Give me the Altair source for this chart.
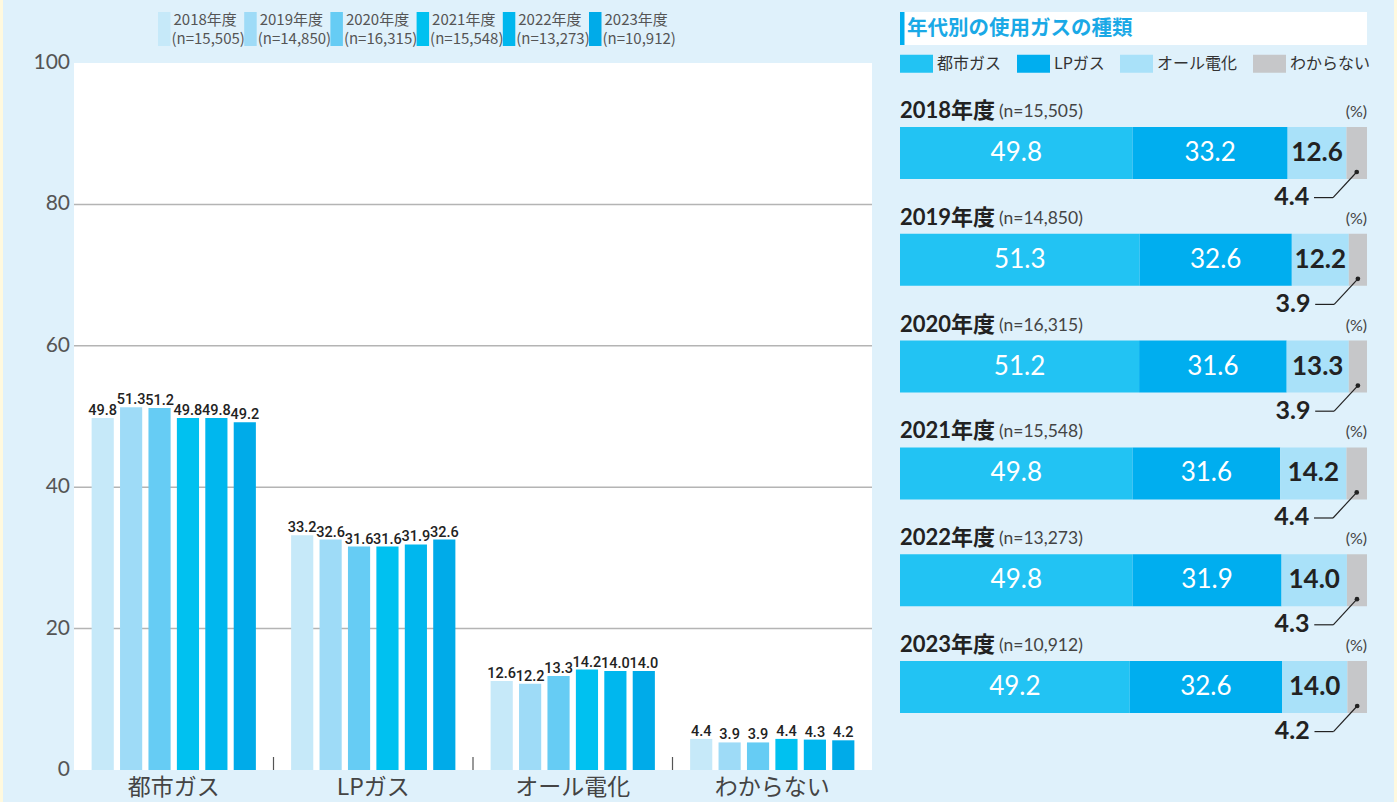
import altair as alt
import pandas as pd

# ---------------- data ----------------
years = ["2018年度", "2019年度", "2020年度", "2021年度", "2022年度", "2023年度"]
sample_sizes = ["15,505", "14,850", "16,315", "15,548", "13,273", "10,912"]
categories = ["都市ガス", "LPガス", "オール電化", "わからない"]

city_gas = [49.8, 51.3, 51.2, 49.8, 49.8, 49.2]
lp_gas = [33.2, 32.6, 31.6, 31.6, 31.9, 32.6]
all_electric = [12.6, 12.2, 13.3, 14.2, 14.0, 14.0]
unknown = [4.4, 3.9, 3.9, 4.4, 4.3, 4.2]

grid_values = [20, 40, 60, 80]
tick_values = [0, 20, 40, 60, 80, 100]
title_text = ["年代別の使用ガスの種類"]

year_colors = ["#c6e9f9", "#9edbf7", "#66ccf4", "#00c1f0", "#00b7ee", "#00abe9"]
gas_colors = ["#22c3f3", "#00aeef", "#a9e1f9", "#c6c7c9"]

series = [city_gas, lp_gas, all_electric, unknown]

rows = []
for yi, y in enumerate(years):
    start = 0.0
    for ci, (c, s) in enumerate(zip(categories, series)):
        v = s[yi]
        rows.append({"cat": c, "year": y, "value": v, "ci": ci,
                     "n": f"(n={sample_sizes[yi]})",
                     "start": start, "end": start + v, "mid": start + v / 2})
        start += v
df = pd.DataFrame(rows)
legend_df = pd.DataFrame({"year": years, "n": [f"(n={n})" for n in sample_sizes]})
grid_df = pd.DataFrame({"g": grid_values})
tick_df = pd.DataFrame({"g": tick_values})
cat_df = pd.DataFrame({"cat": categories})
sep_df = pd.DataFrame({"cat": categories[1:]})
title_df = pd.DataFrame({"t": title_text})

JP = "Noto Sans CJK JP"
NUM = "Lato"

# ---------------- left chart scales ----------------
XL = alt.Scale(type="band", domain=categories, range=[74, 872], paddingInner=0, paddingOuter=0)
XOL = alt.Scale(type="band", domain=years, paddingInner=0.22, paddingOuter=0.62)
YL = alt.Scale(domain=[0, 100], range=[770, 63], nice=False, zero=False)
CL = alt.Scale(domain=years, range=year_colors)
XLEG = alt.Scale(type="band", domain=years, range=[158, 601.5], paddingInner=0.855, paddingOuter=0)

# ---------------- right chart scales ----------------
XR = alt.Scale(domain=[0, 100], range=[900, 1367], nice=False, zero=False)
YR = alt.Scale(type="band", domain=years, range=[127, 713], paddingInner=0.513, paddingOuter=0)
CR = alt.Scale(domain=categories, range=gas_colors)

layers = []

# plot background (white)
layers.append(alt.Chart(tick_df.head(1)).mark_rect(color="white").encode(
    x=alt.value(74), x2=alt.value(872),
    y=alt.Y(datum=0, scale=YL, axis=None), y2=alt.Y2(datum=100)))

# gridlines
layers.append(alt.Chart(grid_df).mark_rule(color="#b4b4b4", strokeWidth=1.5).encode(
    y=alt.Y("g:Q", scale=YL, axis=None), x=alt.value(74), x2=alt.value(872)))

# y labels
layers.append(alt.Chart(tick_df).mark_text(align="right", baseline="middle", fontSize=21,
                                            font=NUM, color="#555").encode(
    y=alt.Y("g:Q", scale=YL, axis=None), x=alt.value(70), text="g:Q"))

# grouped bars
layers.append(alt.Chart(df).mark_bar().encode(
    x=alt.X("cat:N", scale=XL, axis=None, sort=categories),
    xOffset=alt.XOffset("year:N", scale=XOL, sort=years),
    y=alt.Y("value:Q", scale=YL, axis=None),
    color=alt.Color("year:N", scale=CL, legend=None)))

# bar labels
layers.append(alt.Chart(df).mark_text(baseline="alphabetic", dy=-3, fontSize=14.5, font="Roboto",
                                      fontWeight=500, color="#222").encode(
    x=alt.X("cat:N", scale=XL, axis=None, sort=categories),
    xOffset=alt.XOffset("year:N", scale=XOL, sort=years),
    y=alt.Y("value:Q", scale=YL, axis=None),
    text=alt.Text("value:Q", format=".1f")))

# group separators
layers.append(alt.Chart(sep_df).mark_rule(color="#555", strokeWidth=1.2).encode(
    x=alt.X("cat:N", scale=XL, axis=None, bandPosition=0),
    y=alt.value(757), y2=alt.value(770)))

# category labels
layers.append(alt.Chart(cat_df).mark_text(fontSize=23, font=JP, color="#444", baseline="middle").encode(
    x=alt.X("cat:N", scale=XL, axis=None), y=alt.value(788), text="cat:N"))

# top-left legend
layers.append(alt.Chart(legend_df).mark_rect().encode(
    x=alt.X("year:N", scale=XLEG, axis=None),
    y=alt.value(12), y2=alt.value(46),
    color=alt.Color("year:N", scale=CL, legend=None)))
layers.append(alt.Chart(legend_df).mark_text(align="left", baseline="middle", dx=3, fontSize=15,
                                             font=JP, color="#555").encode(
    x=alt.X("year:N", scale=XLEG, axis=None, bandPosition=1), y=alt.value(20), text="year:N"))
layers.append(alt.Chart(legend_df).mark_text(align="left", baseline="middle", dx=1, fontSize=15,
                                             font=JP, color="#555").encode(
    x=alt.X("year:N", scale=XLEG, axis=None, bandPosition=1), y=alt.value(39), text="n:N"))

# ---------------- right panel ----------------
layers.append(alt.Chart(title_df).mark_rect(color="white").encode(
    x=alt.X(datum=0, scale=XR, axis=None), x2=alt.X2(datum=100),
    y=alt.value(12), y2=alt.value(45)))
layers.append(alt.Chart(title_df).mark_rect(color="#00aeef").encode(
    x=alt.X(datum=0, scale=XR, axis=None), x2=alt.value(904.5),
    y=alt.value(12), y2=alt.value(45)))
layers.append(alt.Chart(title_df).mark_text(align="left", baseline="middle", fontSize=20.5, font=JP,
                                            fontWeight="bold", color="#1aa9e6").encode(
    x=alt.value(907), y=alt.value(29), text="t:N"))

# stacked bars with legend
layers.append(alt.Chart(df).mark_bar().encode(
    x=alt.X("start:Q", scale=XR, axis=None), x2="end:Q",
    y=alt.Y("year:N", scale=YR, axis=None),
    color=alt.Color("cat:N", scale=CR, legend=alt.Legend(
        orient="none", legendX=900, legendY=47, direction="horizontal", title=None,
        symbolType="M-1,-0.545H1V0.545H-1Z", symbolSize=1089, symbolStrokeWidth=0,
        symbolOpacity=1, labelFontSize=16, labelFont=JP, labelColor="#333",
        labelOffset=4, columnPadding=15, padding=0))))

# white labels
layers.append(alt.Chart(df).transform_filter("datum.ci < 2").mark_text(
    baseline="middle", fontSize=26, font=NUM, color="white").encode(
    x=alt.X("mid:Q", scale=XR, axis=None), y=alt.Y("year:N", scale=YR, axis=None),
    text=alt.Text("value:Q", format=".1f")))
# dark labels
layers.append(alt.Chart(df).transform_filter("datum.ci == 2").mark_text(
    baseline="middle", fontSize=26, font=NUM, fontWeight="bold", color="#222").encode(
    x=alt.X("mid:Q", scale=XR, axis=None), y=alt.Y("year:N", scale=YR, axis=None),
    text=alt.Text("value:Q", format=".1f")))

unk = alt.Chart(df).transform_filter("datum.ci == 3")
layers.append(unk.mark_rule(color="#222", strokeWidth=1.2, yOffset=45, y2Offset=70.6, x2Offset=-23.7).encode(
    x=alt.X("mid:Q", scale=XR, axis=None), x2="mid:Q",
    y=alt.Y("year:N", scale=YR, axis=None, bandPosition=0),
    y2=alt.Y2("year:N", bandPosition=0)))
layers.append(unk.mark_rule(color="#222", strokeWidth=1.2, xOffset=-23.7, x2Offset=-42.7, yOffset=70.6).encode(
    x=alt.X("mid:Q", scale=XR, axis=None), x2="mid:Q",
    y=alt.Y("year:N", scale=YR, axis=None, bandPosition=0)))
layers.append(unk.mark_circle(color="#222", size=22, opacity=1, yOffset=45).encode(
    x=alt.X("mid:Q", scale=XR, axis=None),
    y=alt.Y("year:N", scale=YR, axis=None, bandPosition=0)))
layers.append(unk.mark_text(align="right", baseline="middle", fontSize=25, font=NUM, fontWeight="bold",
                            color="#222", xOffset=-47.5, yOffset=70).encode(
    x=alt.X("mid:Q", scale=XR, axis=None),
    y=alt.Y("year:N", scale=YR, axis=None, bandPosition=0),
    text=alt.Text("value:Q", format=".1f")))

# year headers
hdr = alt.Chart(legend_df)
layers.append(hdr.mark_text(align="left", baseline="alphabetic", dy=-9, fontSize=22, font=f"{NUM}, {JP}",
                            fontWeight="bold", color="#222").encode(
    x=alt.X(datum=0, scale=XR, axis=None),
    y=alt.Y("year:N", scale=YR, axis=None, bandPosition=0), text="year:N"))
layers.append(hdr.mark_text(align="left", baseline="alphabetic", dy=-10, dx=99, fontSize=17.5, font=NUM,
                            color="#444").encode(
    x=alt.X(datum=0, scale=XR, axis=None),
    y=alt.Y("year:N", scale=YR, axis=None, bandPosition=0), text="n:N"))
layers.append(hdr.mark_text(align="right", baseline="alphabetic", dy=-10, fontSize=16, font=NUM,
                            color="#444", text="(%)").encode(
    x=alt.X(datum=100, scale=XR, axis=None),
    y=alt.Y("year:N", scale=YR, axis=None, bandPosition=0)))

# side strips
layers.append(alt.Chart(title_df).mark_rect(color="#fff9de").encode(
    x=alt.value(0), x2=alt.value(3), y=alt.value(0), y2=alt.value(802)))
layers.append(alt.Chart(title_df).mark_rect(color="#fff9de").encode(
    x=alt.value(1394), x2=alt.value(1397), y=alt.value(0), y2=alt.value(802)))

chart = alt.layer(*layers).resolve_scale(
    x="independent", y="independent", color="independent"
).properties(
    width=1397, height=802, autosize=alt.AutoSizeParams(type="none"), padding=0,
    background="#dff1fb"
).configure_view(stroke=None)

chart.save("out.html", embed_options={"renderer": "svg", "actions": False})
